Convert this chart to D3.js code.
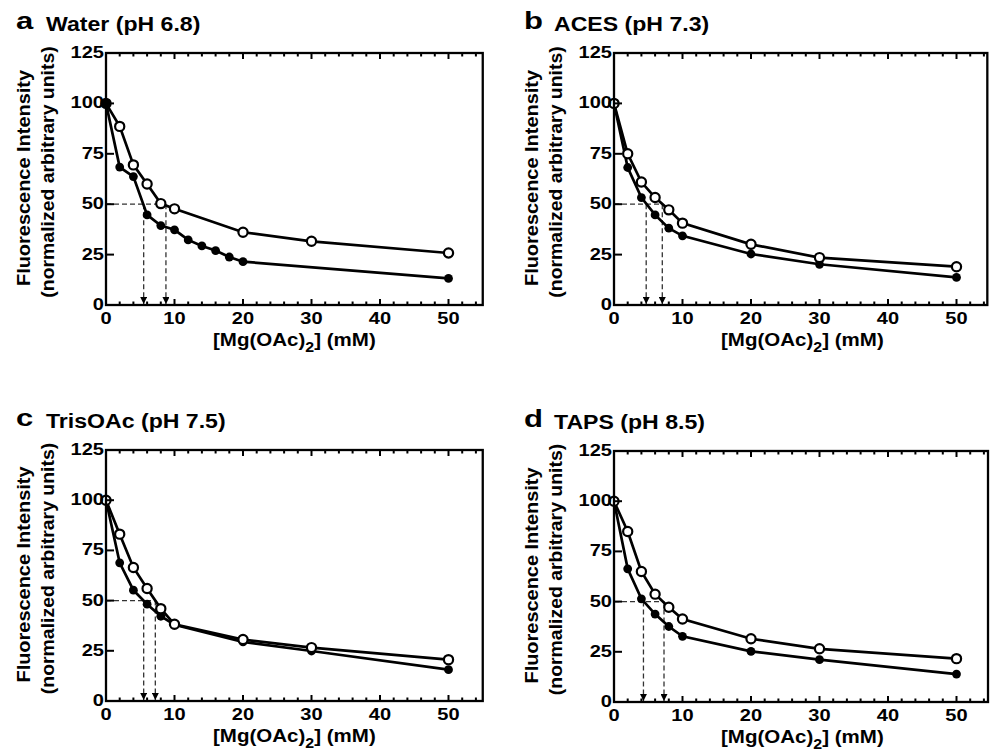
<!DOCTYPE html>
<html>
<head>
<meta charset="utf-8">
<script src="https://cdn.jsdelivr.net/npm/d3@7"></script>
<style>
  body { margin: 0; background: #fff; }
  text { font-family: "Liberation Sans", Arial, sans-serif; font-weight: bold; fill: #000; }
</style>
</head>
<body>
<div id="fig"></div>
<script>
// values
const panelLetters = ["a", "b", "c", "d"];
const bufferNames = ["Water (pH 6.8)", "ACES (pH 7.3)", "TrisOAc (pH 7.5)", "TAPS (pH 8.5)"];

const concStd = [0, 2, 4, 6, 8, 10, 20, 30, 50];
const concWaterFilled = [0, 2, 4, 6, 8, 10, 12, 14, 16, 18, 20, 50];

const waterOpen = [100, 88.6, 69.5, 60, 50.3, 47.7, 36.1, 31.6, 25.8];
const waterFilled = [100, 68.4, 63.7, 44.7, 39.4, 37.3, 32.3, 29.3, 27, 23.8, 21.5, 13.2];
const acesOpen = [100, 75, 61, 53.3, 47.2, 40.6, 30.1, 23.5, 19];
const acesFilled = [100, 68.2, 53.3, 44.7, 38.1, 34.3, 25.3, 20.2, 13.7];
const trisOpen = [100, 83.1, 66.5, 56, 46, 38.2, 30.6, 26.6, 20.6];
const trisFilled = [100, 68.8, 55.2, 48.2, 42.2, 38, 29.4, 24.9, 15.6];
const tapsOpen = [100, 84.9, 65, 53.7, 47.2, 41.3, 31.5, 26.5, 21.6];
const tapsFilled = [100, 66.3, 51.4, 43.8, 37.6, 32.7, 25.2, 21.1, 13.9];

// [Mg] giving 50% intensity (filled, open)
const halfPoints = [[5.5, 8.75], [4.7, 7.05], [5.5, 7.2], [4.3, 7.3]];

const xTicks = [0, 10, 20, 30, 40, 50];
const xMinor = d3.range(0, 55, 2);
const yTicks = [0, 25, 50, 75, 100, 125];

const openSets = [waterOpen, acesOpen, trisOpen, tapsOpen];
const filledSets = [waterFilled, acesFilled, trisFilled, tapsFilled];
const filledConc = [concWaterFilled, concStd, concStd, concStd];

// layout
const W = 995, H = 756;
const unitPx = 6.85;
const frames = [
  { left: 106, top: 53, bottom: 305, xEnd: 55 },
  { left: 614, top: 53, bottom: 305, xEnd: 54.5 },
  { left: 106, top: 450, bottom: 701, xEnd: 55 },
  { left: 614, top: 451, bottom: 702, xEnd: 54.6 }
];
const SX = 1.18; // text in the figure is a bit wide

const svg = d3.select("#fig").append("svg")
  .attr("width", W).attr("height", H);

svg.append("defs").append("marker")
  .attr("id", "arrow")
  .attr("viewBox", "0 0 10 10")
  .attr("refX", 10).attr("refY", 5)
  .attr("markerWidth", 8).attr("markerHeight", 7)
  .attr("markerUnits", "userSpaceOnUse")
  .attr("orient", "auto")
  .append("path")
  .attr("d", "M0,0 L10,5 L0,10 Z")
  .attr("fill", "#000");

function wideText(g, x, y, str, size, anchor) {
  return g.append("text")
    .attr("transform", `translate(${x},${y}) scale(${SX},1)`)
    .attr("text-anchor", anchor || "middle")
    .style("font-size", size + "px")
    .text(str);
}

frames.forEach((f, i) => {
  const x = d3.scaleLinear().domain([0, f.xEnd]).range([f.left, f.left + f.xEnd * unitPx]);
  const y = d3.scaleLinear().domain([0, 125]).range([f.bottom, f.top]);
  const g = svg.append("g");
  const right = x(f.xEnd);

  // title
  g.append("text")
    .attr("transform", `translate(${f.left - 90},${f.top - 24}) scale(1.35,1)`)
    .style("font-size", "23px")
    .text(panelLetters[i]);
  g.append("text")
    .attr("transform", `translate(${f.left - 60},${f.top - 22}) scale(1.1,1)`)
    .style("font-size", "21px")
    .text(bufferNames[i]);

  // dashed guides to the half point
  const hp = halfPoints[i];
  g.append("line")
    .attr("x1", x(0)).attr("x2", x(d3.max(hp)))
    .attr("y1", y(50)).attr("y2", y(50))
    .attr("stroke", "#333").attr("stroke-width", 1.3)
    .attr("stroke-dasharray", "5,3");
  g.selectAll(".drop").data(hp).join("line")
    .attr("x1", d => x(d)).attr("x2", d => x(d))
    .attr("y1", y(50)).attr("y2", y(0) - 1)
    .attr("stroke", "#333").attr("stroke-width", 1.3)
    .attr("stroke-dasharray", "5,3")
    .attr("marker-end", "url(#arrow)");

  // curves
  const line = d3.line().x(d => x(d[0])).y(d => y(d[1]));
  const filledPts = d3.zip(filledConc[i], filledSets[i]);
  const openPts = d3.zip(concStd, openSets[i]);
  [filledPts, openPts].forEach(pts => {
    g.append("path").datum(pts)
      .attr("d", line)
      .attr("fill", "none").attr("stroke", "#000").attr("stroke-width", 2.7);
  });
  g.selectAll(".fdot").data(filledPts).join("circle")
    .attr("cx", d => x(d[0])).attr("cy", d => y(d[1]))
    .attr("r", 4.4).attr("fill", "#000");
  g.selectAll(".odot").data(openPts).join("circle")
    .attr("cx", d => x(d[0])).attr("cy", d => y(d[1]))
    .attr("r", 4.6).attr("fill", "#fff")
    .attr("stroke", "#000").attr("stroke-width", 2.2);
  // in panel a the filled start point sits on top
  g.selectAll(".ftop").data(i === 0 ? filledPts.slice(0, 1) : []).join("circle")
    .attr("cx", d => x(d[0])).attr("cy", d => y(d[1]))
    .attr("r", 4.4).attr("fill", "#000");

  // frame
  g.append("rect")
    .attr("x", x(0)).attr("y", y(125))
    .attr("width", right - x(0)).attr("height", y(0) - y(125))
    .attr("fill", "none").attr("stroke", "#000").attr("stroke-width", 2.3);

  // x ticks (inside, bottom and top)
  const tickLen = v => (v % 10 === 0 ? 6 : 3.5);
  xMinor.filter(v => v > 0).forEach(v => {
    g.append("line").attr("x1", x(v)).attr("x2", x(v))
      .attr("y1", y(0)).attr("y2", y(0) - tickLen(v))
      .attr("stroke", "#000").attr("stroke-width", 2);
    g.append("line").attr("x1", x(v)).attr("x2", x(v))
      .attr("y1", y(125)).attr("y2", y(125) + tickLen(v))
      .attr("stroke", "#000").attr("stroke-width", 2);
  });
  // y ticks (inside, left)
  yTicks.forEach(v => {
    g.append("line").attr("x1", x(0)).attr("x2", x(0) + 8)
      .attr("y1", y(v)).attr("y2", y(v))
      .attr("stroke", "#000").attr("stroke-width", 2);
  });

  // tick labels
  xTicks.forEach(v => wideText(g, x(v), y(0) + 19, v, 17));
  yTicks.forEach(v => wideText(g, x(0) - 2, y(v) + 5, v, 17, "end"));

  // axis titles
  const xl = g.append("text")
    .attr("transform", `translate(${(x(0) + x(55)) / 2},${y(0) + 41}) scale(1.14,1)`)
    .attr("text-anchor", "middle")
    .style("font-size", "18px");
  xl.append("tspan").text("[Mg(OAc)");
  xl.append("tspan").attr("dy", 6).style("font-size", "14px").text("2");
  xl.append("tspan").attr("dy", -6).text("] (mM)");

  const cy = (y(0) + y(125)) / 2 - 3;
  g.append("text")
    .attr("transform", `translate(${f.left - 76},${cy + 2}) rotate(-90) scale(1.05,1)`)
    .attr("text-anchor", "middle")
    .style("font-size", "19px")
    .text("Fluorescence Intensity");
  g.append("text")
    .attr("transform", `translate(${f.left - 52},${cy - 4}) rotate(-90) scale(1.05,1)`)
    .attr("text-anchor", "middle")
    .style("font-size", "18.5px")
    .text("(normalized arbitrary units)");
});
</script>
</body>
</html>
